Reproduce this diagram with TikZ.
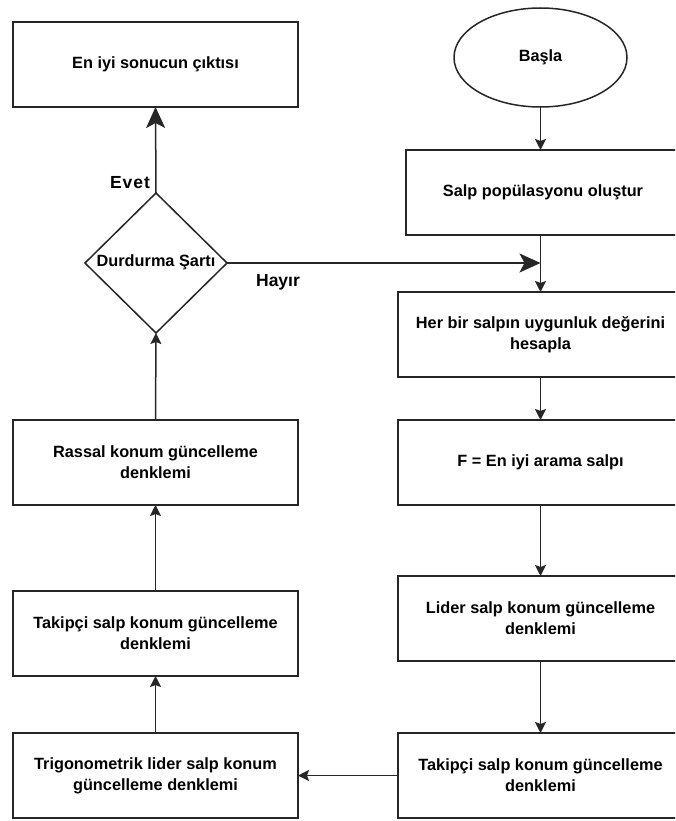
\documentclass[tikz,border=0pt]{standalone}
\usepackage{fontspec}
\setmainfont{Liberation Sans}
\usetikzlibrary{shapes.geometric,arrows.meta}
\begin{document}
\begin{tikzpicture}[x=1pt,y=-1pt,
  line width=1.5pt,
  every node/.style={outer sep=0pt},
  txt/.style={font=\fontsize{16.3}{21}\selectfont\bfseries, align=center},
  box/.style={txt, draw=black!85, line width=1.5pt, minimum width=285pt, minimum height=85pt, inner sep=0pt},
  startshape/.style={txt, draw=black!85, ellipse, minimum width=173pt, minimum height=99pt, inner sep=0pt},
  decision/.style={txt, draw=black!85, diamond, minimum width=142pt, minimum height=140pt, inner sep=0pt, aspect=1},
  lbl/.style={font=\fontsize{17.5}{20}\selectfont\bfseries},
  arr/.style={draw=black!85, -{Stealth[length=11pt,width=11pt,inset=2pt]}},
  bigarr/.style={draw=black!85, -{Stealth[length=21pt,width=19pt,inset=5pt]}}
]
\useasboundingbox (0,0) rectangle (675,821);
\clip (0,0) rectangle (675,821);
% left column
\node[box] (out) at (155.5,64.5) {En iyi sonucun çıktısı};
\node[decision] (cond) at (156,263) {};
\node[txt] (condtxt) at (156,262) {Durdurma Şartı};
\node[box] (rassal) at (155.5,462.5) {Rassal konum güncelleme\\denklemi};
\node[box] (takL) at (155.5,633.5) {Takipçi salp konum güncelleme\\denklemi};
\node[box] (trig) at (155.5,775.5) {Trigonometrik lider salp konum\\güncelleme denklemi};
% right column
\node[startshape] (start) at (540.5,57.5) {Başla};
\node[box, minimum width=274pt] (salp) at (543,192.5) {Salp popülasyonu oluştur};
\node[box] (her) at (540.5,334.5) {Her bir salpın uygunluk değerini\\hesapla};
\node[box] (best) at (540.5,462.5) {F = En iyi arama salpı};
\node[box] (lider) at (540.5,618.5) {Lider salp konum güncelleme\\denklemi};
\node[box] (takR) at (540.5,775.5) {Takipçi salp konum güncelleme\\denklemi};
% labels
\node[lbl] (evet) at (130,183) {E\kern1pt v\kern1pt e\kern1pt t};
\node[lbl] (hayir) at (278,282) {Hayır};
% connectors
\draw[arr] (start.south) -- (start.south |- salp.north);
\draw[arr] (start.south |- salp.south) -- (her.north);
\draw[bigarr] (cond.east) -- (cond.east -| her.north);
\draw[arr] (her.south) -- (best.north);
\draw[arr] (best.south) -- (lider.north);
\draw[arr] (lider.south) -- (takR.north);
\draw[arr] (takR.west) -- (trig.east);
\draw[arr] (trig.north) -- (takL.south);
\draw[arr] (takL.north) -- (rassal.south);
\draw[arr] (rassal.north) -- (cond.south);
\draw[bigarr] (cond.north) -- (out.south);
\end{tikzpicture}
\end{document}
